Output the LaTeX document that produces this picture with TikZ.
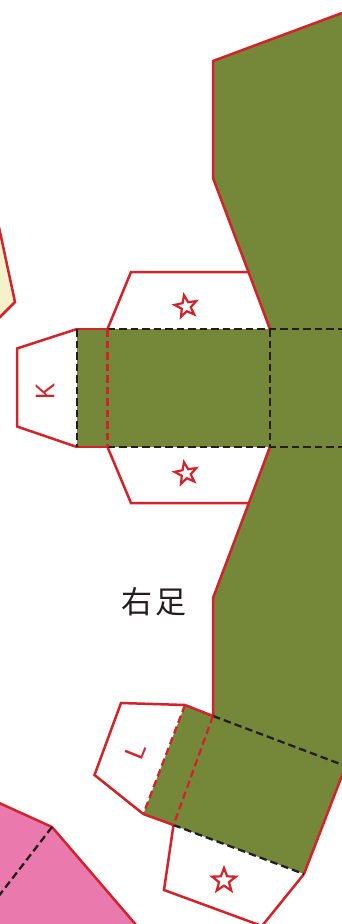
\documentclass[tikz,border=0pt]{standalone}
\usepackage{fontspec}
\setmainfont{Liberation Sans}
\newfontfamily\cjkfont{Noto Sans CJK SC}[Scale=1]
\usetikzlibrary{shapes.geometric}
\definecolor{lgreen}{HTML}{75883A}
\definecolor{lred}{HTML}{D2232A}
\definecolor{lblack}{HTML}{231F20}
\definecolor{lpink}{HTML}{EA7AAD}
\definecolor{lyellow}{HTML}{F4F1CB}
\tikzset{
  cutline/.style={draw=lred,line width=2.5pt,line join=miter},
  foldblack/.style={draw=lblack,line width=2.3pt,dash pattern=on 7.5pt off 4pt},
  foldred/.style={draw=lred,line width=2.3pt,dash pattern=on 7.5pt off 4pt},
  starmark/.style={star,star points=5,star point ratio=2.4,draw=lred,line width=2.2pt,fill=white,inner sep=0pt,minimum size=23pt},
  tablabel/.style={text=lred,font=\fontsize{27}{27}\selectfont,inner sep=0pt}
}
\begin{document}
\begin{tikzpicture}[x=1pt,y=-1pt]
\useasboundingbox (0,0) rectangle (342,924);
% named points
\coordinate (gA) at (342,13);
\coordinate (gB) at (213,61);
\coordinate (gC) at (213,178);
\coordinate (gD) at (270,329);
\coordinate (gE) at (270,447);
\coordinate (gF) at (213,598);
\coordinate (gG) at (213,716);
\coordinate (gH) at (185,705);
\coordinate (gI) at (143.3,814);
\coordinate (gJ) at (173.5,825);
\coordinate (gK) at (304,874);
\coordinate (gL) at (343,773);
\coordinate (gM) at (343,765);
\coordinate (sA) at (77,329);
\coordinate (sB) at (77,447);
\coordinate (sC) at (107.5,329);
\coordinate (sD) at (107.5,447);
\coordinate (sE) at (343,329);
\coordinate (sF) at (343,447);
% yellow piece
\fill[lyellow] (-3,218) -- (15,302) -- (-3,320) -- cycle;
\draw[cutline] (-3,218) -- (15,302) -- (-3,320);
% pink piece
\coordinate (pA) at (52,827);
\coordinate (pE) at (-2,897);
\fill[lpink] (-3,802) -- (pA) -- (137,926) -- (-3,926) -- cycle;
\draw[cutline] (-3,802) -- (pA) -- (137,926);
\draw[foldblack] (pA) -- (pE);
% tabs
\draw[cutline,fill=white] (sC) -- (131,272) -- (250,272) -- (gD);
\draw[cutline,fill=white] (sD) -- (131,503) -- (250,503) -- (gE);
\draw[cutline,fill=white] (sA) -- (17,348.5) -- (17,426.5) -- (sB);
\draw[cutline,fill=white] (gH) -- (121,703) -- (94.5,775) -- (gI);
\draw[cutline,fill=white] (gJ) -- (164,890) -- (262,926) -- (gK);
% green body
\fill[lgreen] (gA) -- (gB) -- (gC) -- (gD) -- (sC) -- (sA) -- (sB) -- (sD) -- (gE) -- (gF) -- (gG) -- (gH) -- (gI) -- (gJ) -- (gK) -- (gL) -- (343,13) -- cycle;
\draw[cutline] (gA) -- (gB) -- (gC) -- (gD);
\draw[cutline] (gE) -- (gF) -- (gG) -- (gH);
\draw[cutline] (gI) -- (gJ);
\draw[cutline] (gK) -- (gL);
\draw[cutline] (sA) -- (sC);
\draw[cutline] (sB) -- (sD);
% fold lines
\draw[foldblack] (sC) -- (sE);
\draw[foldblack] (sD) -- (sF);
\draw[foldblack] (sA) -- (sB);
\draw[foldblack] (gD) -- (gE);
\draw[foldblack] (gG) -- (gM);
\draw[foldblack] (gJ) -- (gK);
\draw[foldred] (sC) -- (sD);
\draw[foldred] (gH) -- (gI);
\draw[foldred] (gG) -- (gJ);
% marks
\node[starmark,rotate=10] (star1) at (186,306.5) {};
\node[starmark,rotate=10] (star2) at (186,473.5) {};
\node[starmark,minimum size=25pt] (star3) at (224,880.5) {};
\node[tablabel,rotate=90,xscale=0.9] (labK) at (45,391) {K};
\node[tablabel,rotate=68] (labL) at (136,751) {L};
\node[text=lblack,font=\cjkfont\fontsize{31}{31}\selectfont,inner sep=0pt] (title) at (154,602) {右\kern3pt 足};
\end{tikzpicture}
\end{document}
